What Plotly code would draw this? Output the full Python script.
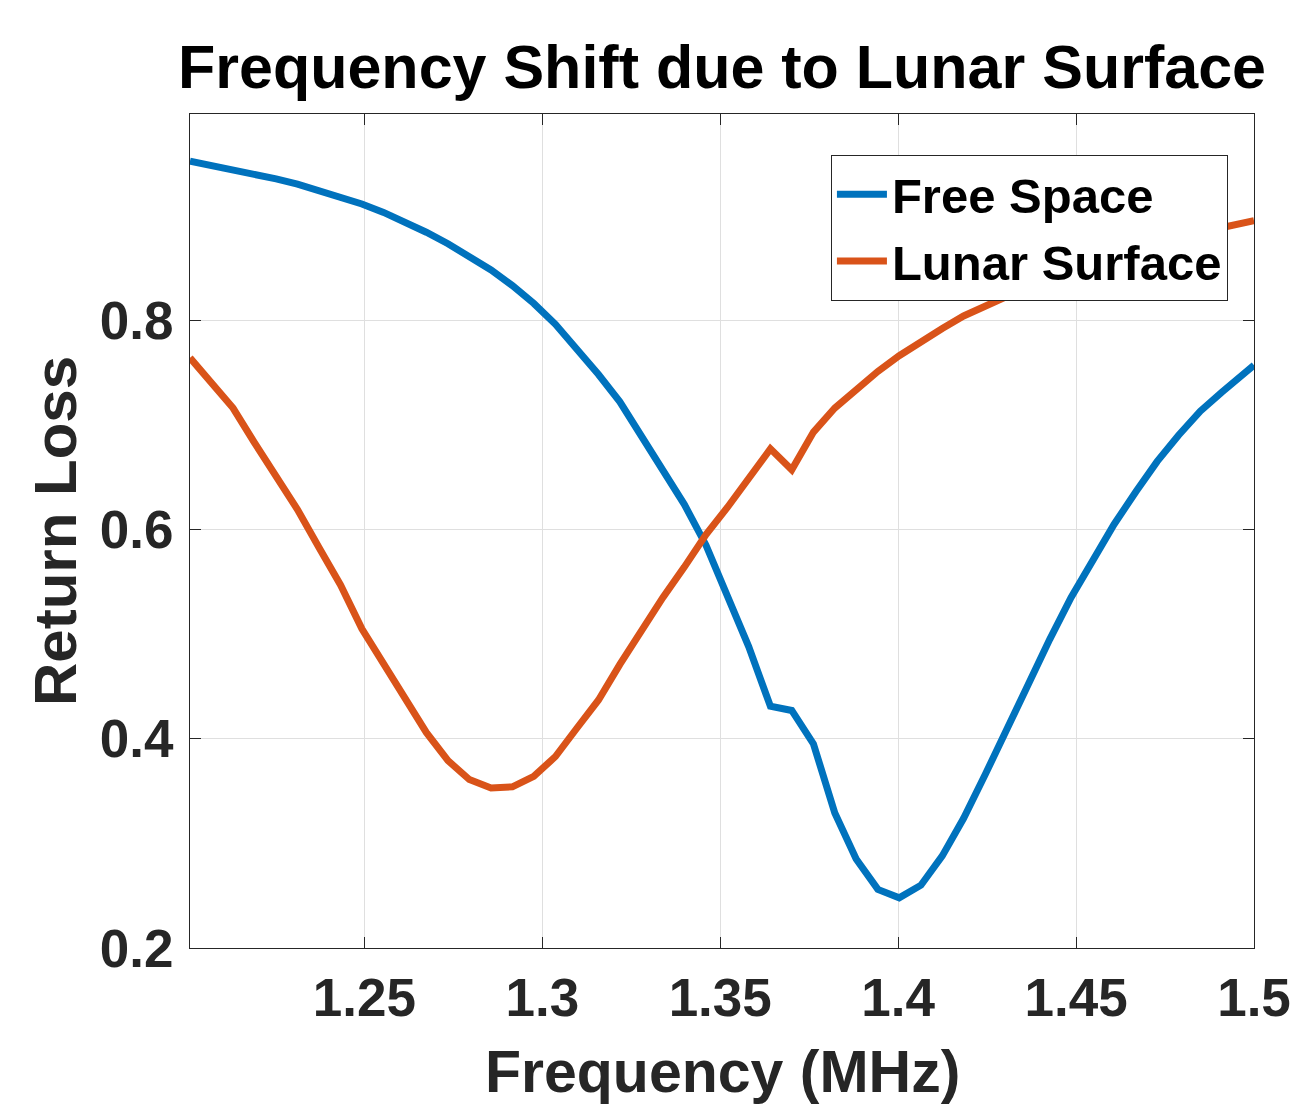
import plotly.graph_objects as go

# Frequency samples (MHz)
freq = [1.2010, 1.2070, 1.2131, 1.2191, 1.2252, 1.2312, 1.2372, 1.2433, 1.2493, 1.2554,
        1.2614, 1.2674, 1.2735, 1.2795, 1.2856, 1.2916, 1.2976, 1.3037, 1.3097, 1.3158,
        1.3218, 1.3278, 1.3339, 1.3399, 1.3460, 1.3520, 1.3580, 1.3641, 1.3701, 1.3762,
        1.3822, 1.3882, 1.3943, 1.4003, 1.4064, 1.4124, 1.4184, 1.4245, 1.4305, 1.4366,
        1.4426, 1.4486, 1.4547, 1.4607, 1.4668, 1.4728, 1.4788, 1.4849, 1.4909, 1.4970,
        1.5000]

free_space = [0.952, 0.948, 0.944, 0.940, 0.935, 0.930, 0.924, 0.918, 0.911, 0.903,
              0.894, 0.884, 0.873, 0.861, 0.848, 0.833, 0.816, 0.796, 0.773, 0.748,
              0.722, 0.690, 0.659, 0.624, 0.585, 0.537, 0.488, 0.431, 0.427, 0.395,
              0.329, 0.285, 0.256, 0.248, 0.260, 0.288, 0.324, 0.366, 0.410, 0.454,
              0.495, 0.535, 0.571, 0.605, 0.636, 0.665, 0.690, 0.713, 0.731, 0.748,
              0.757]

lunar_surface = [0.764, 0.741, 0.716, 0.683, 0.651, 0.619, 0.583, 0.547, 0.505, 0.472,
                 0.437, 0.406, 0.379, 0.361, 0.353, 0.354, 0.364, 0.383, 0.410, 0.437,
                 0.471, 0.503, 0.535, 0.564, 0.595, 0.621, 0.648, 0.677, 0.657, 0.693,
                 0.716, 0.734, 0.751, 0.766, 0.780, 0.792, 0.804, 0.814, 0.823, 0.832,
                 0.840, 0.848, 0.855, 0.862, 0.868, 0.874, 0.879, 0.884, 0.888, 0.893,
                 0.895]

x_ticks = [1.25, 1.3, 1.35, 1.4, 1.45, 1.5]
x_tick_text = ["1.25", "1.3", "1.35", "1.4", "1.45", "1.5"]
y_ticks = [0.2, 0.4, 0.6, 0.8]
y_tick_text = ["0.2", "0.4", "0.6", "0.8"]

FONT = "Liberation Sans, Arial, Helvetica, sans-serif"
AX = "#262626"
GRID = "#dfdfdf"

fig = go.Figure()
fig.add_trace(go.Scatter(x=freq, y=free_space, mode="lines", name="Free Space",
                         line=dict(color="#0072BD", width=7)))
fig.add_trace(go.Scatter(x=freq, y=lunar_surface, mode="lines", name="Lunar Surface",
                         line=dict(color="#D95319", width=7)))

axis_common = dict(
    showline=True, linecolor=AX, linewidth=1, mirror="ticks",
    ticks="inside", ticklen=11, tickwidth=1, tickcolor=AX,
    showgrid=True, gridcolor=GRID, gridwidth=1, zeroline=False,
    automargin=False,
    tickfont=dict(family=FONT, size=53, color=AX, weight="bold"),
)

fig.update_xaxes(range=[1.201, 1.5], tickvals=x_ticks, ticktext=x_tick_text,
                 ticklabelstandoff=3, **axis_common)
fig.update_yaxes(range=[0.2, 0.997], tickvals=y_ticks, ticktext=y_tick_text,
                 ticklabelstandoff=5, **axis_common)

fig.update_layout(
    width=1291, height=1106,
    margin=dict(l=190, r=37, t=114, b=158),
    paper_bgcolor="white", plot_bgcolor="white",
    title=dict(text="Frequency Shift due to Lunar Surface",
               font=dict(family=FONT, size=61, color="black", weight="bold"),
               x=0.5, xref="paper", xanchor="center",
               y=1 - 66.5 / 1106, yref="container", yanchor="middle"),
    legend=dict(x=0.9755, y=(948 - 155) / 834, xanchor="right", yanchor="top",
                bgcolor="white", bordercolor=AX, borderwidth=1, itemwidth=50,
                font=dict(family=FONT, size=49, color="black", weight="bold")),
    annotations=[
        dict(text="Frequency (MHz)", xref="paper", yref="paper", x=0.5, y=(948 - 1072) / 834,
             xanchor="center", yanchor="middle", showarrow=False,
             font=dict(family=FONT, size=59, color=AX, weight="bold")),
        dict(text="Return Loss", xref="paper", yref="paper", x=(55 - 190) / 1064, y=0.5,
             xanchor="center", yanchor="middle", textangle=-90, showarrow=False,
             font=dict(family=FONT, size=60, color=AX, weight="bold")),
    ],
)

fig.write_html("out.html",
               config={"displayModeBar": False},
               post_script="document.body.style.margin='0';document.body.style.overflow='hidden';")
